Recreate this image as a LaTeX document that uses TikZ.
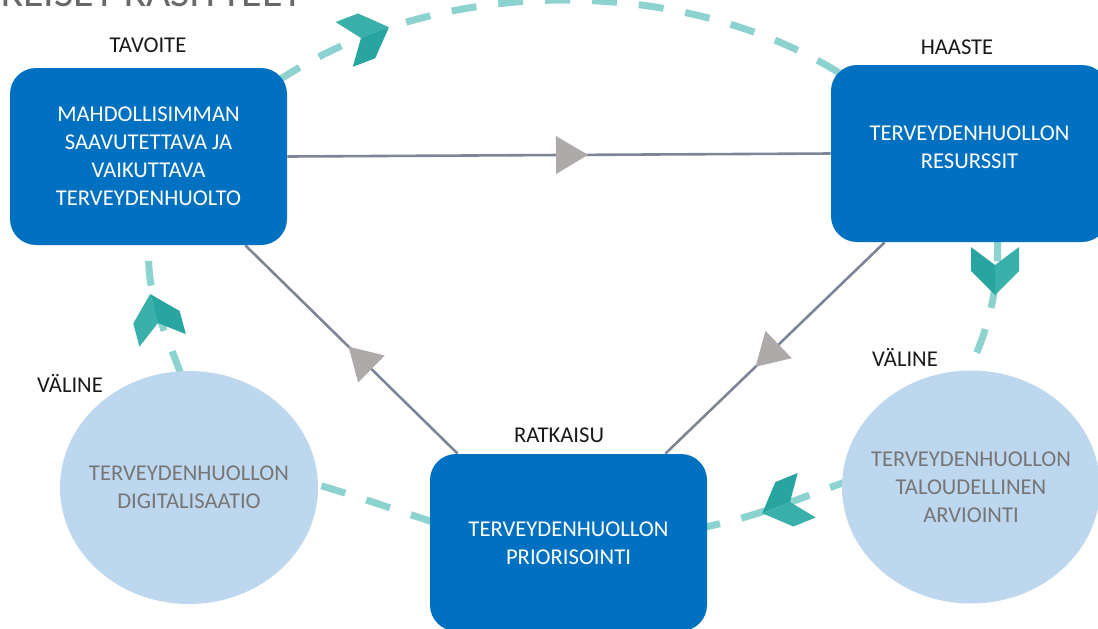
\documentclass[tikz,border=0pt]{standalone}
\usepackage{fontspec}
\setmainfont{Carlito}
\usetikzlibrary{shapes.geometric,calc,decorations.markings}
\pgfdeclarelayer{background}
\pgfsetlayers{background,main}
\definecolor{boxblue}{RGB}{0,112,192}
\definecolor{circfill}{RGB}{189,215,238}
\definecolor{circtext}{RGB}{118,118,118}
\definecolor{dashteal}{RGB}{140,210,207}
\definecolor{chevcolA}{RGB}{58,176,170}
\definecolor{chevcolB}{RGB}{40,165,160}
\definecolor{conncol}{RGB}{125,134,150}
\definecolor{tricol}{RGB}{174,170,170}
\definecolor{titlegray}{RGB}{105,105,105}
\newcommand{\txtfont}{\fontsize{11.3}{14}\selectfont}
\begin{document}
\begin{tikzpicture}[x=0.5pt,y=-0.5pt,
  box/.style={fill=boxblue, rounded corners=13pt, minimum width=138.5pt, minimum height=88.5pt,
    inner sep=0pt, align=center, text=white, font=\txtfont},
  circ/.style={ellipse, fill=circfill, minimum width=129pt, minimum height=116.5pt,
    inner xsep=-8pt, inner ysep=0pt, align=center, text=circtext, font=\txtfont},
  lab/.style={text=black!90, font=\txtfont, inner sep=0pt},
  dashline/.style={draw=dashteal, line width=3.5pt, dash pattern=on 12.5pt off 11pt},
  conn/.style={draw=conncol, line width=1.3pt},
  tri/.style={fill=tricol},
  arrowmid/.style={postaction={decorate}, decoration={markings,
    mark=at position #1 with {\fill[tri] (-8pt,-9.5pt) -- (8pt,0pt) -- (-8pt,9.5pt) -- cycle;}}},
  chev/.pic={
    \fill[chevcolA] (0pt,0pt) -- (-9pt,12pt) -- (3pt,12pt) -- (15pt,0pt) -- cycle;
    \fill[chevcolB] (0pt,0pt) -- (-9pt,-12pt) -- (3pt,-12pt) -- (15pt,0pt) -- cycle;
  }]
\useasboundingbox (0,0) rectangle (1098,628);
\begin{scope}
\clip (0,0) rectangle (1098,628);
% title (cut at the top, as in the reference)
\node[anchor=base west, inner sep=0pt, text=titlegray, font=\fontsize{21}{25}\selectfont] (title) at (-60,6) {KESKEISET KÄSITTEET};

% main shapes
\node[box] (goal) at (148.5,156.5) {MAHDOLLISIMMAN\\SAAVUTETTAVA JA\\VAIKUTTAVA\\TERVEYDENHUOLTO};
\node[box, text depth=6pt] (res) at (969.5,153.5) {TERVEYDENHUOLLON\\RESURSSIT};
\node[box] (prio) at (568.5,542.5) {\\[-6pt]TERVEYDENHUOLLON\\PRIORISOINTI};
\node[circ] (val1) at (189,487.5) {TERVEYDENHUOLLON\\DIGITALISAATIO};
\node[circ] (val2) at (971,487) {TERVEYDENHUOLLON\\TALOUDELLINEN\\ARVIOINTI};

% labels
\node[lab] (ltav) at (148,45) {TAVOITE};
\node[lab] (lhaa) at (957,47) {HAASTE};
\node[lab] (lval1) at (70,383) {VÄLINE};
\node[lab] (lval2) at (905,357) {VÄLINE};
\node[lab] (lrat) at (559,435) {RATKAISU};

\begin{pgfonlayer}{background}
% dashed teal loop segments
\draw[dashline] ($(goal.north east)+(-9,13)$) arc[start angle=227, end angle=313, x radius=420, y radius=300];
\draw[dashline] ($(res.south)+(28,-6)$) .. controls (999,290) and (988,335) .. ($(val2.north)+(-8,11)$);
\draw[dashline] ($(val2.west)+(12,-8)$) .. controls (800,498) and (760,516) .. ($(prio.east)+(-7,-14.5)$);
\draw[dashline] ($(prio.west)+(5,-20)$) .. controls (390,508) and (350,494) .. ($(val1.east)+(-8,-5)$);
\draw[dashline] ($(val1.north)+(-8,4)$) .. controls (165,330) and (143,290) .. ($(goal.south)+(1.5,-7)$);
% grey connectors with mid triangles
\draw[conn, arrowmid=0.524] (goal.east) -- (res.west);
\draw[conn, arrowmid=0.536] ($(res.south west)+(54,0)$) -- ($(prio.north east)+(-42,0)$);
\draw[conn, arrowmid=0.46] ($(prio.north west)+(28,0)$) -- ($(goal.south east)+(-42,0)$);
\end{pgfonlayer}

% teal chevrons
\pic[rotate=21] at (361,38) {chev};
\pic[rotate=-90] at (995,265) {chev};
\pic[rotate=-158] at (790,502) {chev};
\pic[rotate=105] at (158,323) {chev};
\end{scope}
\end{tikzpicture}
\end{document}
